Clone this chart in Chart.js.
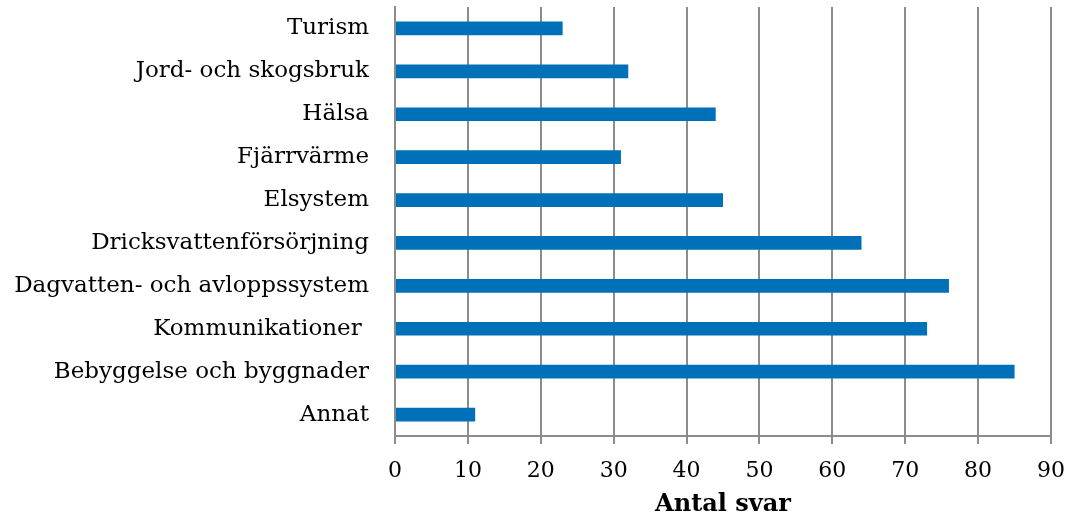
<!DOCTYPE html>
<html>
<head>
<meta charset="utf-8">
<script src="https://cdn.jsdelivr.net/npm/chart.js@4"></script>
<style>
  html, body { margin: 0; padding: 0; background: #fff; }
  #wrap { width: 1070px; height: 519px; }
</style>
</head>
<body>
<div id="wrap"><canvas id="c" width="1070" height="519"></canvas></div>
<script>
// Antal svar per sektor
var categories = ['Turism', 'Jord- och skogsbruk', 'Hälsa', 'Fjärrvärme', 'Elsystem',
  'Dricksvattenförsörjning', 'Dagvatten- och avloppssystem', 'Kommunikationer ',
  'Bebyggelse och byggnader', 'Annat'];
var answers = [23, 32, 44, 31, 45, 64, 76, 73, 85, 11];
var xTicks = [0, 10, 20, 30, 40, 50, 60, 70, 80, 90];
var xTitle = 'Antal svar';

var serif = "'DejaVu Serif', 'Liberation Serif', serif";
var gridColor = '#8c8c8c';

new Chart(document.getElementById('c'), {
  type: 'bar',
  data: {
    labels: categories,
    datasets: [{ data: answers, backgroundColor: '#0070b8', borderWidth: 0,
      barPercentage: 0.32, categoryPercentage: 1 }]
  },
  options: {
    indexAxis: 'y',
    responsive: false, animation: false,
    layout: { padding: { top: 7, right: 19, left: 0, bottom: 0 } },
    plugins: { legend: { display: false }, tooltip: { enabled: false } },
    scales: {
      x: {
        min: 0, max: 90,
        afterBuildTicks: function (s) { s.ticks = xTicks.map(function (v) { return { value: v }; }); },
        afterFit: function (s) { s.height = 83; s.paddingLeft = 0; s.paddingRight = 0; },
        grid: { color: gridColor, lineWidth: 2, tickLength: 8 },
        border: { color: gridColor, width: 2 },
        ticks: { color: '#000', font: { family: serif, size: 22 }, padding: 14 },
        title: { display: true, text: xTitle, color: '#000', padding: { top: 0, bottom: 0 },
          font: { family: serif, size: 24, weight: 'bold' } }
      },
      y: {
        afterFit: function (s) { s.width = 395; s.paddingTop = 0; s.paddingBottom = 0; },
        grid: { display: false },
        border: { color: gridColor, width: 2 },
        ticks: { color: '#000', font: { family: serif, size: 23 }, padding: 18 }
      }
    }
  }
});
</script>
</body>
</html>
